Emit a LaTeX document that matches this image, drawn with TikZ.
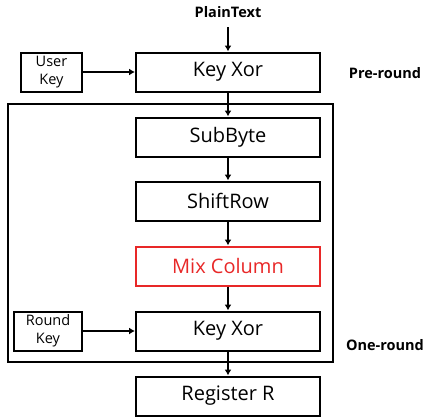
\documentclass[tikz,border=0pt]{standalone}
\usepackage{fontspec}
\setmainfont{Open Sans}
\usetikzlibrary{arrows.meta}
\definecolor{mcred}{RGB}{232,40,40}
\begin{document}
\begin{tikzpicture}[x=1pt,y=-1pt,
  blk/.style={draw,line width=2pt,minimum width=184pt,minimum height=39pt,inner sep=0pt,font=\fontsize{20}{24}\selectfont},
  kbox/.style={draw,line width=2pt,minimum height=39pt,inner sep=0pt,align=center,font=\fontsize{14.5}{18}\selectfont},
  lbl/.style={font=\bfseries\fontsize{14.5}{17}\selectfont},
  arr/.style={line width=2pt,-{Latex[length=6pt,width=7pt]}}]
\useasboundingbox (0,0) rectangle (425,418);
\node[lbl] (pt) at (228,12) {PlainText};
\node[blk] (kx1) at (228,72) {Key Xor};
\node[kbox,minimum width=61pt] (uk) at (51.5,72) {User\\Key};
\node[lbl] (pre) at (385,73) {Pre-round};
\draw[line width=2pt] (8,104) rectangle (333,362);
\node[blk] (sb) at (228,137) {SubByte};
\node[blk] (sr) at (228,201) {ShiftRow};
\node[blk,draw=mcred,text=mcred] (mc) at (228,266) {Mix Column};
\node[blk] (kx2) at (228,331) {Key Xor};
\node[kbox,minimum width=68pt] (rk) at (48,331) {Round\\Key};
\node[lbl] (one) at (385,345) {One-round};
\node[blk] (reg) at (228,396) {Register R};
\coordinate (ptb) at (228,27);
\draw[arr] (ptb) -- (kx1.north);
\draw[arr] (uk) -- (kx1);
\draw[arr] (kx1) -- (sb);
\draw[arr] (sb) -- (sr);
\draw[arr] (sr) -- (mc);
\draw[arr] (mc) -- (kx2);
\draw[arr] (rk) -- (kx2);
\draw[arr] (kx2) -- (reg);
\end{tikzpicture}
\end{document}
